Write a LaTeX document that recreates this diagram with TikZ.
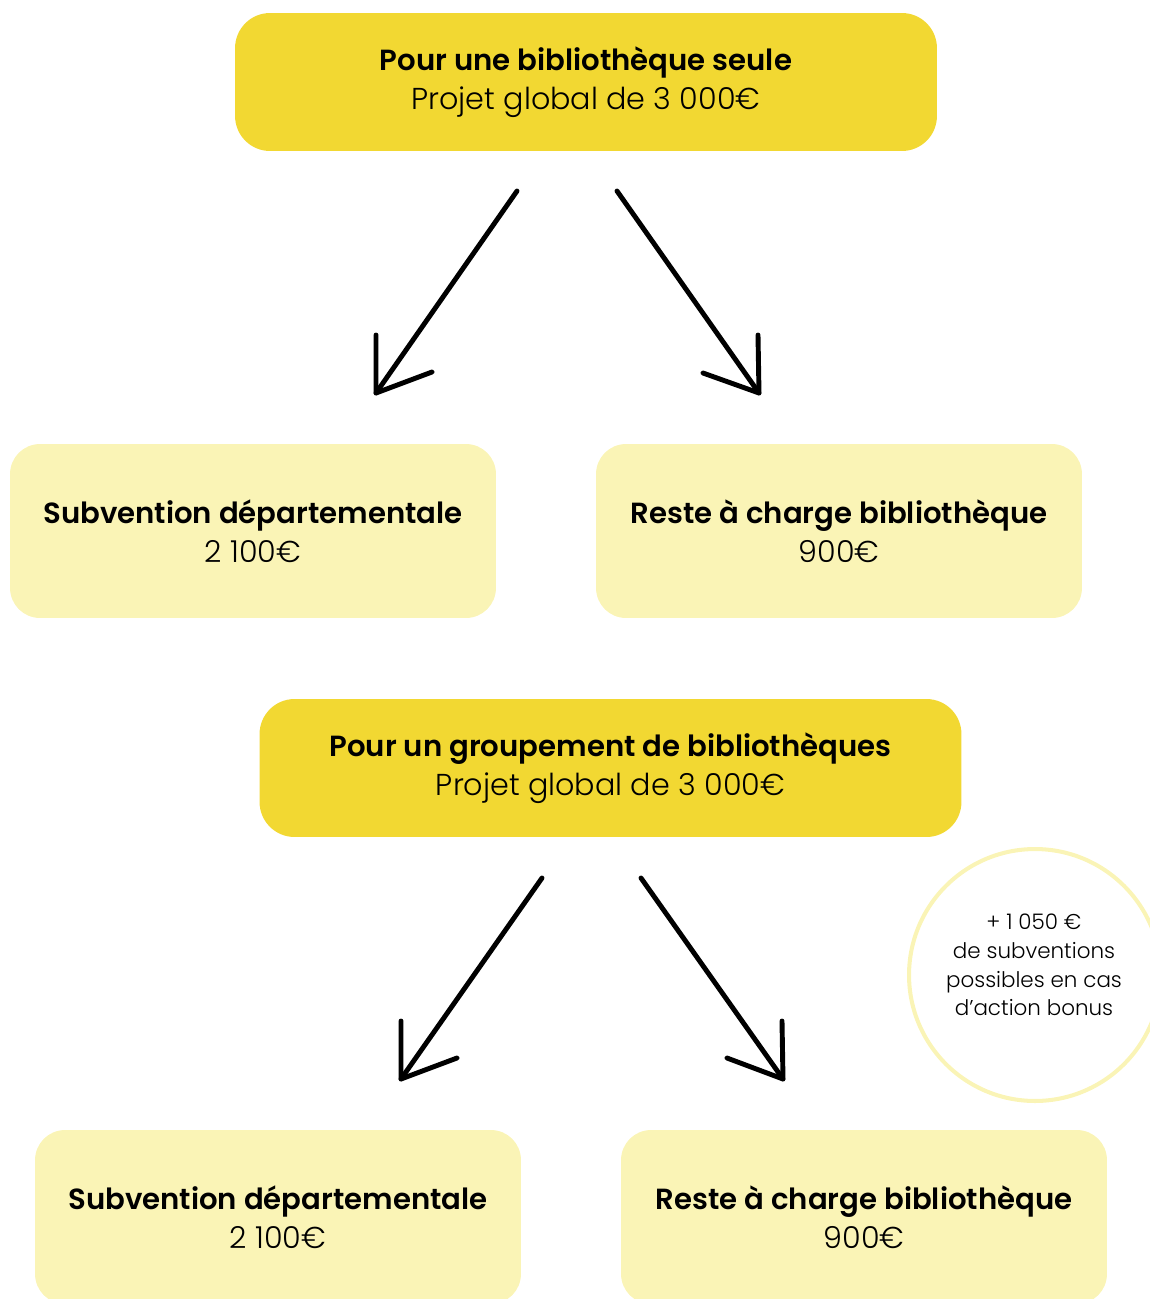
\documentclass[tikz,border=0pt]{standalone}
\usepackage{fontspec}
\setmainfont{Poppins}[UprightFont=*-Light, BoldFont=*-SemiBold]
\usetikzlibrary{arrows}

\definecolor{darkyellow}{HTML}{F2D832}
\definecolor{lightyellow}{HTML}{FAF4B6}

\newcommand{\titre}[1]{{\fontsize{16.6}{22}\selectfont\bfseries #1}}

\begin{document}
\begin{tikzpicture}[
            x = 0.02cm, % one unit = one pixel
            y = -0.02cm,
            line cap = round,
            line join = round,
            line width = 2.8pt%,
        ]

        \tikzstyle{head box}=[
            rectangle,
            fill = darkyellow,
            rounded corners = 0.7cm,
            minimum width = 14.04cm,
            minimum height = 2.76cm,
            align = center,
            font = \fontsize{17.2}{22}\selectfont
        ]
        \tikzstyle{part box}=[
            rectangle,
            fill = lightyellow,
            rounded corners = 0.6cm,
            minimum width = 9.72cm,
            minimum height = 3.48cm,
            align = center,
            font = \fontsize{17.2}{22}\selectfont
        ]
        \tikzstyle{bonus}=[
            circle,
            draw = lightyellow,
            line width = 2.3pt,
            minimum size = 5.04cm
        ]
        \tikzstyle{bonus text}=[
            align = center,
            font = \fontsize{12.2}{16.4}\selectfont
        ]
        \tikzstyle{arrow}=[black]

        \useasboundingbox (0,0) rectangle (1150,1299);

        % single library
        \node[head box] (seule)    at ( 586 ,   82 ) {\titre{Pour une bibliothèque seule}\\Projet global de 3 000€};
        \node[part box] (subv1)    at ( 253 ,  531 ) {\titre{Subvention départementale}\\2 100€};
        \node[part box] (reste1)   at ( 839 ,  531 ) {\titre{Reste à charge bibliothèque}\\900€};

        % group of libraries
        \node[head box] (groupe)   at ( 610.5 , 768 ) {\titre{Pour un groupement de bibliothèques}\\Projet global de 3 000€};
        \node[part box] (subv2)    at ( 278 , 1217 ) {\titre{Subvention départementale}\\2 100€};
        \node[part box] (reste2)   at ( 864 , 1217 ) {\titre{Reste à charge bibliothèque}\\900€};

        % bonus circle, its text sits a little above the centre
        \node[bonus]      (bonus)     at ( 1035 , 975 ) {};
        \node[bonus text] (bonustext) at ( 1034 , 965 ) {+ 1 050 €\\de subventions\\possibles en cas\\d’action bonus};

        % arrow ends
        \coordinate (s1l) at ( 517 ,  191 );
        \coordinate (e1l) at ( 376 ,  393 );
        \coordinate (s1r) at ( 617 ,  191 );
        \coordinate (e1r) at ( 759 ,  393 );
        \coordinate (s2l) at ( 542 ,  878 );
        \coordinate (e2l) at ( 401 , 1079 );
        \coordinate (s2r) at ( 641 ,  878 );
        \coordinate (e2r) at ( 783 , 1079 );

        %    line            hand drawn head
        \draw[arrow] (s1l) -- (e1l); \draw[arrow] (e1l) ++(0,-58)  -- (e1l) -- ++(56,-21);
        \draw[arrow] (s1r) -- (e1r); \draw[arrow] (e1r) ++(-1,-58) -- (e1r) -- ++(-56,-20);
        \draw[arrow] (s2l) -- (e2l); \draw[arrow] (e2l) ++(0,-58)  -- (e2l) -- ++(56,-21);
        \draw[arrow] (s2r) -- (e2r); \draw[arrow] (e2r) ++(-1,-58) -- (e2r) -- ++(-56,-21);

    \end{tikzpicture}
\end{document}
